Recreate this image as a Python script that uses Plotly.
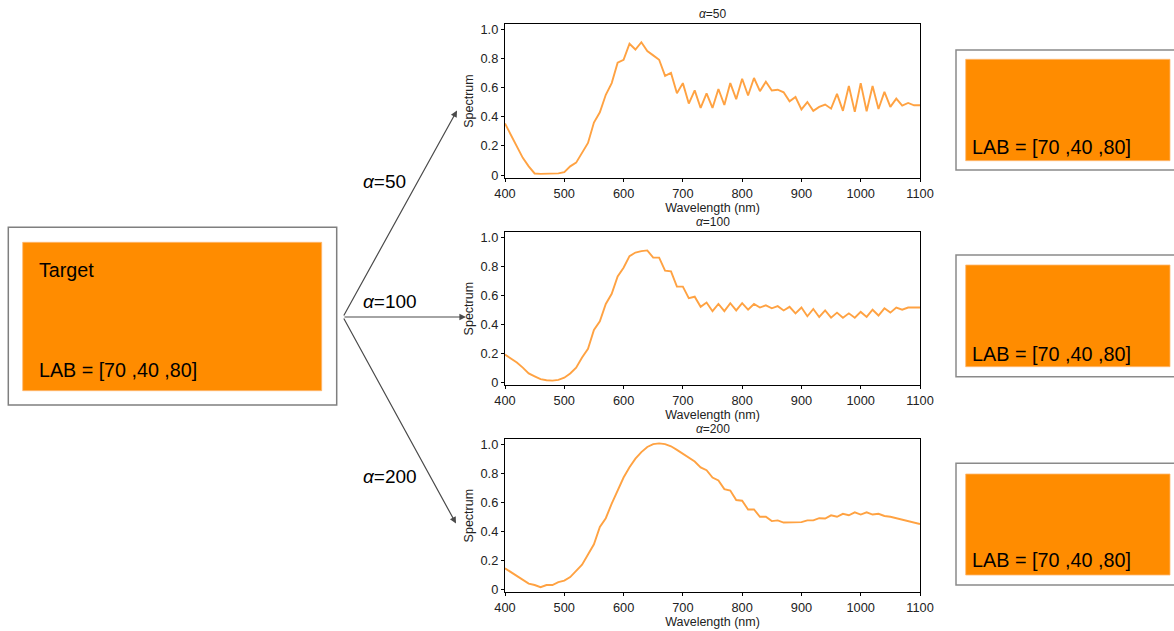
import plotly.graph_objects as go

# Wavelength grid (nm) shared by the three spectra
wavelength = list(range(400, 1101, 10))

# Reflectance spectra reconstructed for each regularisation weight
spectrum_a50 = [
    0.353, 0.278, 0.198, 0.118, 0.060, 0.011, 0.008, 0.008, 0.008, 0.012,
    0.020, 0.060, 0.085, 0.150, 0.220, 0.360, 0.430, 0.550, 0.630, 0.770,
    0.790, 0.900, 0.860, 0.910, 0.850, 0.820, 0.790, 0.680, 0.700, 0.560,
    0.630, 0.490, 0.580, 0.460, 0.560, 0.460, 0.590, 0.480, 0.630, 0.520,
    0.660, 0.545, 0.665, 0.575, 0.640, 0.580, 0.585, 0.567, 0.505, 0.535,
    0.450, 0.500, 0.440, 0.467, 0.483, 0.455, 0.556, 0.440, 0.610, 0.433,
    0.630, 0.437, 0.610, 0.453, 0.570, 0.467, 0.524, 0.476, 0.494, 0.478,
    0.478,
]
spectrum_a100 = [
    0.190, 0.165, 0.135, 0.100, 0.060, 0.040, 0.020, 0.013, 0.010, 0.015,
    0.030, 0.060, 0.100, 0.170, 0.230, 0.360, 0.420, 0.540, 0.610, 0.730,
    0.790, 0.870, 0.895, 0.905, 0.910, 0.860, 0.860, 0.770, 0.765, 0.660,
    0.660, 0.580, 0.590, 0.520, 0.550, 0.490, 0.540, 0.490, 0.545, 0.495,
    0.545, 0.500, 0.540, 0.515, 0.530, 0.510, 0.525, 0.495, 0.520, 0.475,
    0.515, 0.455, 0.505, 0.450, 0.495, 0.445, 0.480, 0.445, 0.475, 0.445,
    0.485, 0.450, 0.500, 0.460, 0.510, 0.480, 0.515, 0.500, 0.515, 0.515,
    0.515,
]
spectrum_a200 = [
    0.145, 0.120, 0.095, 0.070, 0.040, 0.030, 0.015, 0.030, 0.030, 0.050,
    0.060, 0.085, 0.125, 0.170, 0.240, 0.310, 0.430, 0.490, 0.590, 0.680,
    0.770, 0.840, 0.900, 0.945, 0.980, 1.000, 1.005, 1.000, 0.985, 0.960,
    0.935, 0.910, 0.880, 0.840, 0.820, 0.770, 0.750, 0.690, 0.680, 0.615,
    0.610, 0.550, 0.550, 0.500, 0.500, 0.470, 0.475, 0.460, 0.462, 0.463,
    0.463, 0.475, 0.475, 0.490, 0.488, 0.510, 0.500, 0.520, 0.510, 0.530,
    0.515, 0.530, 0.515, 0.520, 0.505, 0.500, 0.490, 0.480, 0.470, 0.460,
    0.450,
]

alpha_labels = ["50", "100", "200"]
spectra = [spectrum_a50, spectrum_a100, spectrum_a200]
lab_text = "LAB = [70 ,40 ,80]"

x_ticks = list(range(400, 1101, 100))
y_ticks = [0, 0.2, 0.4, 0.6, 0.8, 1.0]
y_tick_text = ["0", "0.2", "0.4", "0.6", "0.8", "1.0"]

W, H = 1174, 631
FONT = "Arial, Liberation Sans, sans-serif"
ORANGE = "#FF8C00"
LINE = "rgb(255,162,66)"


def px(x):
    return x / W


def py(y):
    return 1 - y / H


fig = go.Figure()

# Plot areas in pixel coordinates (top, bottom)
panel_left, panel_right = 505, 920
panel_rows = [(24, 178), (232.3, 385), (439, 592.3)]

annotations = []
shapes = []

for i, (vals, (top, bottom)) in enumerate(zip(spectra, panel_rows)):
    sfx = "" if i == 0 else str(i + 1)
    fig.add_trace(go.Scatter(
        x=wavelength, y=vals, mode="lines",
        line=dict(color=LINE, width=1.9),
        xaxis="x" + sfx, yaxis="y" + sfx, showlegend=False,
    ))
    axis_common = dict(
        showline=True, linecolor="black", linewidth=1.3, mirror=True,
        ticks="outside", ticklen=3, tickcolor="black", tickwidth=1,
        showgrid=False, zeroline=False, automargin=False,
        tickfont=dict(family=FONT, size=12.8, color="#222"),
    )
    fig.update_layout(**{
        "xaxis" + sfx: dict(
            domain=[px(panel_left), px(panel_right)],
            anchor="y" + sfx, range=[400, 1100],
            tickvals=x_ticks,
            title=dict(text="Wavelength (nm)", standoff=0,
                       font=dict(family=FONT, size=12.5, color="#222")),
            **axis_common,
        ),
        "yaxis" + sfx: dict(
            domain=[py(bottom), py(top)],
            anchor="x" + sfx, range=[-0.02, 1.035],
            tickvals=y_ticks, ticktext=y_tick_text,
            title=dict(text="Spectrum", standoff=4,
                       font=dict(family=FONT, size=12.5, color="#222")),
            **axis_common,
        ),
    })
    annotations.append(dict(
        text="<i>α</i>=" + alpha_labels[i], xref="paper", yref="paper",
        x=px((panel_left + panel_right) / 2), y=py(top - 1),
        xanchor="center", yanchor="bottom", showarrow=False,
        font=dict(family=FONT, size=12, color="#222"),
    ))


def rect(x0, y0, x1, y1, **kw):
    shapes.append(dict(type="rect", xref="paper", yref="paper",
                       x0=px(x0), x1=px(x1), y0=py(y1), y1=py(y0),
                       layer="below", **kw))


# Target colour swatch
rect(8.3, 227.3, 336.7, 405, line=dict(color="#7f7f7f", width=1.5),
     fillcolor="white")
rect(22.7, 242.3, 321.7, 390.7, line=dict(color="#FFB870", width=0.8),
     fillcolor=ORANGE)
annotations.append(dict(
    text="Target", xref="paper", yref="paper", x=px(37), y=py(269.5),
    xanchor="left", yanchor="middle", showarrow=False,
    font=dict(family=FONT, size=19.7, color="black")))
annotations.append(dict(
    text=lab_text, xref="paper", yref="paper", x=px(37), y=py(370),
    xanchor="left", yanchor="middle", showarrow=False,
    font=dict(family=FONT, size=19.7, color="black")))

# Reproduced colour swatches on the right; their frames run off the right edge
swatches = [(50, 170, 59.3, 160.7, 146.5), (255, 376.7, 265, 366.7, 354),
            (463.3, 585, 474, 575, 560)]
edge = px(W)
for (o0, o1, i0, i1, ty) in swatches:
    shapes.append(dict(
        type="path", xref="paper", yref="paper", layer="below",
        path=(f"M {edge} {py(o0)} L {px(956)} {py(o0)} "
              f"L {px(956)} {py(o1)} L {edge} {py(o1)}"),
        line=dict(color="#8a8a8a", width=1.5)))
    rect(965.7, i0, 1170, i1, line=dict(color="#FFB870", width=0.8),
         fillcolor=ORANGE)
    annotations.append(dict(
        text=lab_text, xref="paper", yref="paper", x=px(970), y=py(ty),
        xanchor="left", yanchor="middle", showarrow=False,
        font=dict(family=FONT, size=19.8, color="black")))

# Arrows from the target to each spectrum
origin = (343, 317)
tips = [(457, 110.5), (466, 317), (456, 523.5)]
for (tx, ty) in tips:
    annotations.append(dict(
        text="", xref="paper", yref="paper", x=px(tx), y=py(ty),
        ax=origin[0] - tx, ay=origin[1] - ty, axref="pixel", ayref="pixel",
        showarrow=True, arrowhead=2, arrowsize=1.1, arrowwidth=1.2,
        arrowcolor="#4a4a4a", standoff=0, startstandoff=0))

alpha_pos = [181, 301, 476]
for lab, yy in zip(alpha_labels, alpha_pos):
    annotations.append(dict(
        text="<i>α</i>=" + lab, xref="paper", yref="paper",
        x=px(361), y=py(yy), xanchor="left", yanchor="middle",
        showarrow=False, font=dict(family=FONT, size=19, color="black")))

fig.update_layout(
    width=W, height=H, margin=dict(l=0, r=0, t=0, b=0, autoexpand=False),
    paper_bgcolor="white", plot_bgcolor="white",
    shapes=shapes, annotations=annotations,
)

fig.write_html("out.html", config={"displayModeBar": False})
